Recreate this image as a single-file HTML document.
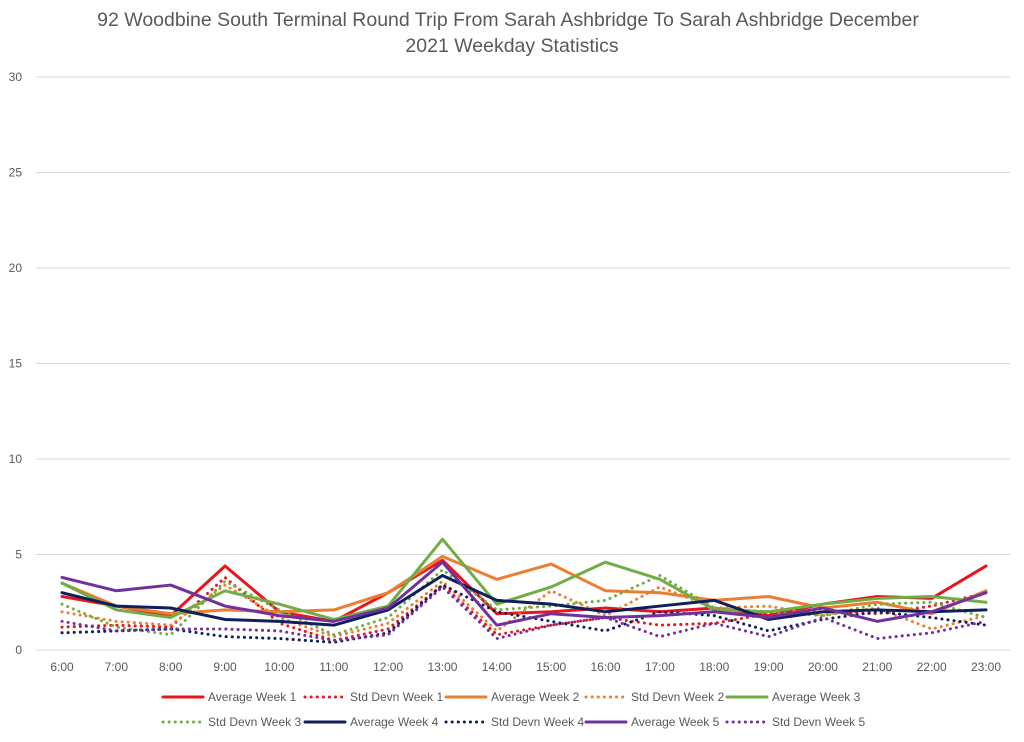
<!DOCTYPE html>
<html><head><meta charset="utf-8"><style>
body{margin:0;background:#fff;font-family:"Liberation Sans",sans-serif;}
svg text{font-family:"Liberation Sans",sans-serif;}
</style></head><body>
<svg id="chart" width="1024" height="737" xmlns="http://www.w3.org/2000/svg">
<text x="508" y="26" text-anchor="middle" font-size="19.5" fill="#595959">92 Woodbine South Terminal Round Trip From Sarah Ashbridge To Sarah Ashbridge December</text>
<text x="512" y="52" text-anchor="middle" font-size="19.5" fill="#595959">2021 Weekday Statistics</text>
<g id="grid"></g><g id="series"></g><g id="legend"></g>
</svg>
<script>
const categories=["6:00","7:00","8:00","9:00","10:00","11:00","12:00","13:00","14:00","15:00","16:00","17:00","18:00","19:00","20:00","21:00","22:00","23:00"];
const yTicks=[0,5,10,15,20,25,30];
const avgW1=[2.8,2.3,1.8,4.4,2.0,1.5,3.0,4.7,1.9,2.0,2.2,2.0,2.2,1.8,2.4,2.8,2.7,4.4];
const sdW1=[1.2,1.3,1.2,3.8,1.4,0.5,1.1,3.4,0.8,1.3,1.7,1.3,1.4,1.9,2.0,1.9,2.3,3.0];
const avgW2=[3.5,2.3,1.9,2.1,2.0,2.1,3.0,4.9,3.7,4.5,3.1,3.0,2.6,2.8,2.2,2.5,1.9,3.1];
const sdW2=[2.0,1.5,1.3,3.4,1.7,0.7,1.4,3.6,1.0,3.1,1.8,3.3,2.2,2.3,1.8,2.2,1.1,1.8];
const avgW3=[3.5,2.1,1.7,3.1,2.4,1.6,2.3,5.8,2.4,3.3,4.6,3.7,2.1,2.0,2.4,2.7,2.8,2.5];
const sdW3=[2.4,1.2,0.8,3.6,2.1,0.8,1.7,4.2,2.1,2.3,2.6,3.9,2.2,2.0,1.8,2.4,2.5,1.7];
const avgW4=[3.0,2.3,2.2,1.6,1.5,1.3,2.1,3.9,2.6,2.4,2.0,2.3,2.6,1.6,2.0,2.1,2.0,2.1];
const sdW4=[0.9,1.0,1.1,0.7,0.6,0.4,0.9,3.4,2.0,1.5,1.0,2.0,1.8,1.0,1.6,2.0,1.7,1.3];
const avgW5=[3.8,3.1,3.4,2.3,1.8,1.5,2.2,4.6,1.3,1.9,1.7,1.8,2.0,1.7,2.2,1.5,2.0,3.0];
const sdW5=[1.5,1.0,1.1,1.1,1.0,0.5,0.8,3.3,0.6,1.3,1.7,0.7,1.4,0.7,1.7,0.6,0.9,1.5];
const seriesNames=["Average Week 1","Std Devn Week 1","Average Week 2","Std Devn Week 2","Average Week 3","Std Devn Week 3","Average Week 4","Std Devn Week 4","Average Week 5","Std Devn Week 5"];

const NS="http://www.w3.org/2000/svg";
const X0=62,X1=986,Y0=650,Y30=77;
const xs=i=>X0+i*(X1-X0)/(categories.length-1);
const ys=v=>Y0-(v/30)*(Y0-Y30);
function mk(t,a,p){const e=document.createElementNS(NS,t);for(const k in a)e.setAttribute(k,a[k]);p.appendChild(e);return e;}
const grid=document.getElementById('grid');
yTicks.forEach(v=>{
  const l=mk('line',{x1:36,x2:1010,y1:ys(v),y2:ys(v),stroke:'#d9d9d9','stroke-width':1},grid);
  
  
  const t=mk('text',{x:22,y:ys(v)+4,'text-anchor':'end','font-size':12,fill:'#595959'},grid);
  t.textContent=v;
  
  
});
categories.forEach((c,i)=>{
  const t=mk('text',{x:xs(i),y:671,'text-anchor':'middle','font-size':12,fill:'#595959'},grid);
  t.textContent=c;
  
  
});
const data=[avgW1,sdW1,avgW2,sdW2,avgW3,sdW3,avgW4,sdW4,avgW5,sdW5];
const colors=["#e8161b","#e8161b","#ed7d31","#ed7d31","#70ad47","#70ad47","#0e1f5b","#0e1f5b","#7030a0","#7030a0"];
const sg=document.getElementById('series');
data.forEach((d,k)=>{
  const dotted=k%2===1;
  const p=mk('polyline',{points:d.map((v,i)=>xs(i)+','+ys(v)).join(' '),fill:'none',stroke:colors[k],'stroke-width':3,'stroke-linejoin':'round','stroke-linecap':'round'},sg);
  if(dotted){p.setAttribute('stroke-dasharray','0.1 6');}
  
  
});
const lg=document.getElementById('legend');
const lx=[163,305,446,586,727];
seriesNames.forEach((n,k)=>{
  const row=Math.floor(k/5),col=k%5;
  const y=row?722:697;
  const g=mk('g',{},lg);
  
  
  const l=mk('line',{x1:lx[col],x2:lx[col]+40,y1:y,y2:y,stroke:colors[k],'stroke-width':3,'stroke-linecap':'round'},g);
  if(k%2===1)l.setAttribute('stroke-dasharray','0.1 6');
  const t=mk('text',{x:lx[col]+45,y:y+4,'font-size':12,fill:'#595959'},g);
  t.textContent=n;
});
</script>
</body></html>
